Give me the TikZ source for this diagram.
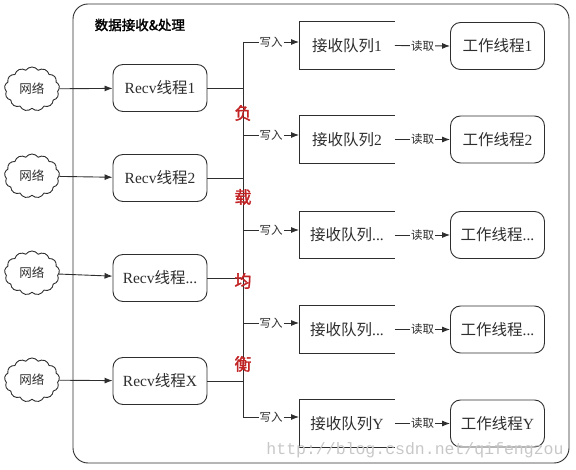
\documentclass[tikz,border=0pt]{standalone}
\usepackage{xcolor}
\usepackage{fontspec}
\usepackage{tikz}
\usetikzlibrary{shapes,shapes.symbols,arrows,arrows.meta}
\setmainfont{Liberation Serif}
\newfontfamily\cjk{Noto Sans CJK SC}[AutoFakeBold=2]
\newfontfamily\mono{Liberation Mono}
\definecolor{colo}{rgb}{0.18, 0.18, 0.18}
\definecolor{redc}{rgb}{0.76, 0.14, 0.15}
\tikzstyle{every cloud node}=[cloud,cloud puffs=13,cloud puff arc=110,aspect=1.25,draw=colo,minimum width=55pt,minimum height=44pt,inner sep=0pt,font=\fontsize{12.5}{12.5}\selectfont\cjk]
\tikzstyle{recv node}=[draw=colo,rounded corners=10pt,minimum width=94pt,minimum height=47pt,font=\fontsize{15.5}{15.5}\selectfont]
\tikzstyle{queue node}=[minimum width=95pt,minimum height=47pt,font=\fontsize{15.5}{15.5}\selectfont]
\tikzstyle{lab node}=[fill=white,inner sep=1pt,font=\fontsize{11.5}{11.5}\selectfont\cjk]
\tikzstyle{red node}=[text=redc,font=\fontsize{17}{17}\selectfont\cjk\bfseries]

\begin{document}
\begin{tikzpicture}[x=1pt,y=-1pt,>={Latex[length=8pt,width=6pt]},colo,line width=0.9pt]
\useasboundingbox (0,0) rectangle (576,470);
\draw[rounded corners=15pt] (73,4) rectangle (569,463);
\node[anchor=west,black,font=\fontsize{13.5}{13.5}\selectfont\cjk\bfseries] (title) at (91,25) {数据接收\&处理};
\node[every cloud node] (n1) at (32,89) {网络};
\node[every cloud node] (n2) at (32,176) {网络};
\node[every cloud node] (n3) at (32,273) {网络};
\node[every cloud node] (n4) at (32,380) {网络};
\node[recv node] (r1) at (160,88) {Recv{\cjk 线程}1};
\node[recv node] (r2) at (160,178) {Recv{\cjk 线程}2};
\node[recv node] (r3) at (160,278) {Recv{\cjk 线程}...};
\node[recv node] (r4) at (160,381) {Recv{\cjk 线程}X};
\draw[->] (n1) -- (r1);
\draw[->] (n2) -- (r2);
\draw[->] (n3) -- (r3);
\draw[->] (n4) -- (r4);
\coordinate (w1) at (243,42);
\coordinate (w2) at (243,135);
\coordinate (w3) at (243,230);
\coordinate (w4) at (243,323);
\coordinate (w5) at (243,417);
\draw (w1) -- (w5);
\draw (r1.east) -- (r1.east -| w1);
\draw (r2.east) -- (r2.east -| w1);
\draw (r3.east) -- (r3.east -| w1);
\draw (r4.east) -- (r4.east -| w1);
\node[queue node] (q1) at (347,45.5) {{\cjk 接收队列}1};
\node[queue node] (q2) at (347,139.5) {{\cjk 接收队列}2};
\node[queue node] (q3) at (347,235) {{\cjk 接收队列}...};
\node[queue node] (q4) at (347,329.5) {{\cjk 接收队列}...};
\node[queue node] (q5) at (347,423.5) {{\cjk 接收队列}Y};
\draw (q1.north east) -- (q1.north west) -- (q1.south west) -- (q1.south east);
\draw (q2.north east) -- (q2.north west) -- (q2.south west) -- (q2.south east);
\draw (q3.north east) -- (q3.north west) -- (q3.south west) -- (q3.south east);
\draw (q4.north east) -- (q4.north west) -- (q4.south west) -- (q4.south east);
\draw (q5.north east) -- (q5.north west) -- (q5.south west) -- (q5.south east);
\node[recv node] (t1) at (497.5,46) {{\cjk 工作线程}1};
\node[recv node] (t2) at (497.5,139.5) {{\cjk 工作线程}2};
\node[recv node] (t3) at (497.5,235) {{\cjk 工作线程}...};
\node[recv node] (t4) at (497.5,329.5) {{\cjk 工作线程}...};
\node[recv node] (t5) at (497.5,423.5) {{\cjk 工作线程}Y};
\draw[->] (w1) -- node[lab node] {写入} (w1 -| q1.west);
\draw[->] (w2) -- node[lab node] {写入} (w2 -| q2.west);
\draw[->] (w3) -- node[lab node] {写入} (w3 -| q3.west);
\draw[->] (w4) -- node[lab node] {写入} (w4 -| q4.west);
\draw[->] (w5) -- node[lab node] {写入} (w5 -| q5.west);
\draw[->] (q1.east) -- node[lab node] {读取} (t1.west);
\draw[->] (q2.east) -- node[lab node] {读取} (t2.west);
\draw[->] (q3.east) -- node[lab node] {读取} (t3.west);
\draw[->] (q4.east) -- node[lab node] {读取} (t4.west);
\draw[->] (q5.east) -- node[lab node] {读取} (t5.west);
\node[red node] (b1) at (243,113) {负};
\node[red node] (b2) at (243,197) {载};
\node[red node] (b3) at (243,281) {均};
\node[red node] (b4) at (243,364) {衡};
%\draw[gray] (b1) -- (b4);
\node[text=black!22,font=\fontsize{16.5}{16.5}\selectfont\mono] (mark) at (415,450) {http://blog.csdn.net/qifengzou};
\end{tikzpicture}
\end{document}
